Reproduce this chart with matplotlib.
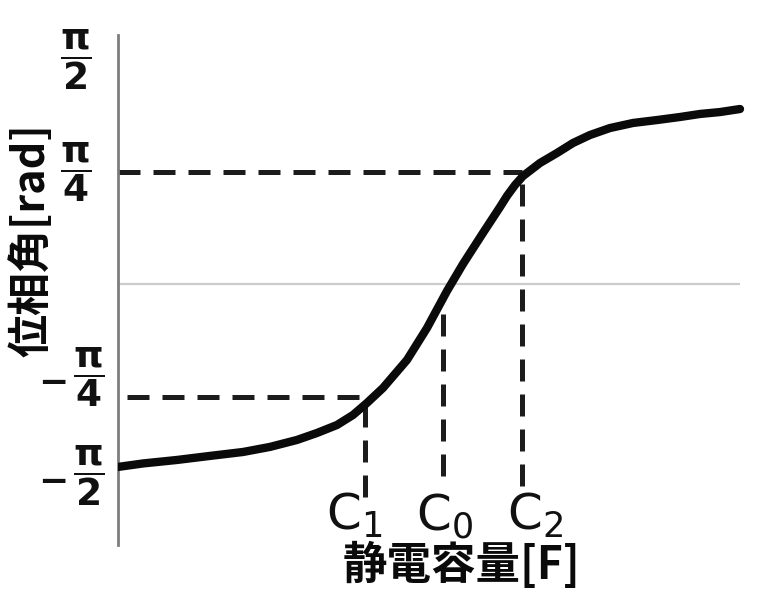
import numpy as np
import matplotlib
matplotlib.use("Agg")
import matplotlib.pyplot as plt

plt.rcParams['mathtext.fontset'] = 'dejavusans'

Q = np.pi / 4  # pi/4 in rad

# ---- data ----
capacitance = [0.000, 0.399, 0.941, 1.467, 1.994, 2.424, 2.855, 3.174, 3.493,
               3.748, 3.971, 4.226, 4.609, 4.928, 5.247, 5.502, 5.821, 6.093,
               6.204, 6.332, 6.459, 6.730, 7.002, 7.257, 7.528, 7.847, 8.214,
               8.596, 8.963, 9.282, 9.601, 9.920]
phase_quarters = [-1.622, -1.591, -1.560, -1.524, -1.489, -1.444, -1.382, -1.320,
                  -1.249, -1.160, -1.053, -0.920, -0.671, -0.387, -0.058, 0.182,
                  0.458, 0.689, 0.787, 0.884, 0.964, 1.080, 1.169, 1.258, 1.329,
                  1.391, 1.436, 1.462, 1.489, 1.516, 1.533, 1.560]
phase = np.array(phase_quarters) * Q

c_names = ['C$_1$', 'C$_0$', 'C$_2$']
c_values = [3.94, 5.18, 6.44]
h_levels = [-Q, Q]                # dashed guide levels for C1, C2
v_bottom = np.array([-1.89, -1.70, -1.79]) * Q

tick_values = np.array([2.0, 1.0, -0.82, -1.70]) * Q
tick_signs = ['', '', '−', '−']
tick_labels = [r'$\dfrac{\mathbf{π}}{\mathbf{2}}$',
               r'$\dfrac{\mathbf{π}}{\mathbf{4}}$',
               r'$\dfrac{\mathbf{π}}{\mathbf{4}}$',
               r'$\dfrac{\mathbf{π}}{\mathbf{2}}$']

# ---- figure ----
W, H = 757, 596
fig = plt.figure(figsize=(W / 100, H / 100), dpi=100)
ax = fig.add_axes([118 / W, 1 - 545 / H, (W - 118) / W, (545 - 35) / H])
ax.set_xlim(0, (W - 118) / 62.7)
ax.set_ylim(-2.316 * Q, 2.218 * Q)

for s in ['top', 'right', 'bottom']:
    ax.spines[s].set_visible(False)
ax.spines['left'].set_color('#7d7d7d')
ax.spines['left'].set_linewidth(2.0)
ax.set_xticks([])
ax.set_yticks([])

# faint zero line
ax.hlines(0, capacitance[0], capacitance[-1], color='#cccccc', lw=1.6, zorder=1)

dash = dict(color='#1c1c1c', lw=3.6, linestyles=(0, (4.4, 2.6)), zorder=2)
c_phase = np.interp(c_values, capacitance, phase)
# horizontal guides
ax.hlines(h_levels[0], 0.15, c_values[0], **dash)
ax.hlines(h_levels[1], 0.0, c_values[2], **dash)
# vertical guides
for cv, cp, vb in zip(c_values, [h_levels[0], c_phase[1], h_levels[1]], v_bottom):
    ax.vlines(cv, vb, cp, **dash)

# curve
ax.plot(capacitance, phase, color='#0a0a0a', lw=6, solid_capstyle='round',
        solid_joinstyle='round', zorder=3)

# C labels
offsets = [-11, 2, 13]
for name, cv, dx in zip(c_names, c_values, offsets):
    ax.annotate(name, xy=(cv, 66), xycoords=('data', 'figure pixels'),
                xytext=(dx, 0), textcoords='offset pixels',
                ha='center', va='baseline', fontsize=36, color='#111111',
                annotation_clip=False)

# y tick labels (stacked fractions, minus sign drawn separately)
tick_dx = [-26, -26, -13, -13]
for tv, tl, sg, dx in zip(tick_values, tick_labels, tick_signs, tick_dx):
    ax.annotate(tl, xy=(0, tv), xycoords=ax.get_yaxis_transform(),
                xytext=(dx, 0), textcoords='offset pixels',
                ha='right', va='center', fontsize=27, color='#111111',
                annotation_clip=False)
    if sg:
        ax.annotate(sg, xy=(0, tv), xycoords=ax.get_yaxis_transform(),
                    xytext=(-50, -3), textcoords='offset pixels',
                    ha='right', va='center_baseline', fontsize=26,
                    fontweight='bold', color='#111111', annotation_clip=False)

cjk = ['Noto Sans CJK JP', 'DejaVu Sans']
fig.text(31 / W, 1 - 240 / H, '位相角[rad]', rotation=90, ha='center', va='center',
         fontsize=31, fontweight='bold', family=cjk, color='#0a0a0a')
fig.text(462 / W, 1 - 565 / H, '静電容量[F]', ha='center', va='center',
         fontsize=32, fontweight='bold', family=cjk, color='#0a0a0a')

fig.savefig('out.png', dpi=100)
